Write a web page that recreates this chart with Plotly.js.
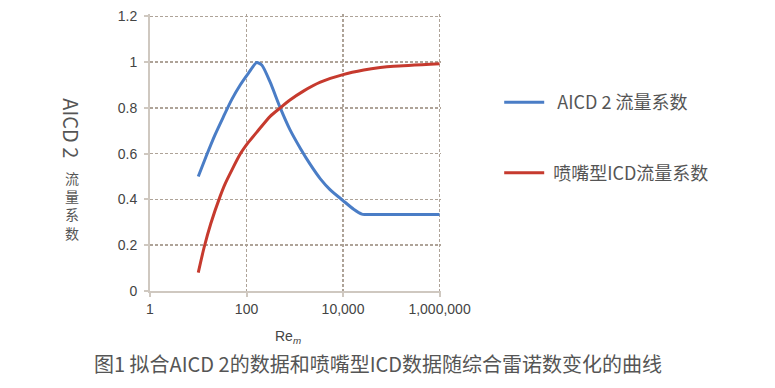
<!DOCTYPE html>
<html>
<head>
<meta charset="utf-8">
<script src="https://cdn.plot.ly/plotly-3.0.1.min.js"></script>
<style>html,body{margin:0;padding:0;background:#fff;}#chart{width:775px;height:388px;}</style>
</head>
<body>
<div id="chart"></div>
<script>
// Data
const aicdRe = [10, 15, 22, 33, 49, 74, 110, 162, 209, 309, 500, 794, 1290, 2090, 3390, 5370, 10000, 16600, 24500, 40000, 100000, 1000000];
const aicdCoef = [0.50, 0.595, 0.68, 0.76, 0.835, 0.90, 0.952, 0.998, 0.986, 0.912, 0.80, 0.705, 0.625, 0.553, 0.49, 0.443, 0.395, 0.357, 0.336, 0.334, 0.334, 0.334];
const nozzleRe = [10, 13.2, 18.2, 28, 36, 74, 110, 162, 309, 500, 794, 1510, 3390, 10000, 26900, 58900, 112000, 1000000];
const nozzleCoef = [0.08, 0.19, 0.295, 0.41, 0.468, 0.598, 0.65, 0.693, 0.763, 0.80, 0.834, 0.873, 0.912, 0.945, 0.965, 0.976, 0.982, 0.993];
const xTickVals = [1, 100, 10000, 1000000];
const xTickText = ['1', '100', '10,000', '1,000,000'];
const yTickVals = [0, 0.2, 0.4, 0.6, 0.8, 1, 1.2];
const yTickText = ['0', '0.2', '0.4', '0.6', '0.8', '1', '1.2'];
const seriesNames = ['\u00a0\u00a0AICD 2 流量系数', '\u00a0喷嘴型ICD流量系数'];
const yTitleLatin = 'AICD 2';
const yTitleCJK = ['流', '量', '系', '数'];
const xTitle = 'Re<sub><i>m</i></sub>';
const caption = '图1 拟合AICD 2的数据和喷嘴型ICD数据随综合雷诺数变化的曲线';

const cjkFont = '"Noto Sans CJK SC", "Noto Sans", sans-serif';
const tickFont = {family: '"Liberation Sans", Arial, sans-serif', size: 14, color: '#444'};
const gridStyle = {showgrid: true, gridcolor: '#aea398', griddash: '3px,2px', gridwidth: 1.5};
const lineStyle = {showline: true, linecolor: '#cfc8c0', linewidth: 2, ticks: 'outside', ticklen: 4,
                   tickcolor: '#cfc8c0', tickwidth: 2, zeroline: false, fixedrange: true};

const traces = [
  {x: aicdRe, y: aicdCoef, name: seriesNames[0], type: 'scatter', mode: 'lines',
   line: {color: '#4a7dc6', width: 3, shape: 'spline', smoothing: 0.6}, legendgroup: 'a'},
  {x: nozzleRe, y: nozzleCoef, name: seriesNames[1], type: 'scatter', mode: 'lines',
   line: {color: '#c63a2e', width: 3, shape: 'spline', smoothing: 0.6}, legendgroup: 'b'}
];

const annotations = [
  {text: yTitleLatin, xref: 'paper', yref: 'paper', x: -0.2686, y: 0.588, xanchor: 'center', yanchor: 'middle',
   textangle: 90, showarrow: false, font: {family: cjkFont, size: 20, color: '#555'}},
  {text: yTitleCJK.join('<br>'), xref: 'paper', yref: 'paper', x: -0.2686, y: 0.31, xanchor: 'center', yanchor: 'middle',
   showarrow: false, font: {family: cjkFont, size: 14, color: '#555'}},
  {text: xTitle, xref: 'paper', yref: 'paper', x: 0.473, y: -0.166, xanchor: 'center', yanchor: 'middle',
   showarrow: false, font: {family: '"Liberation Sans", Arial, sans-serif', size: 14, color: '#444'}},
  {text: caption, xref: 'paper', yref: 'paper', x: 0.782, y: -0.26, xanchor: 'center', yanchor: 'middle',
   showarrow: false, font: {family: cjkFont, size: 20, color: '#555'}}
];

const layout = {
  width: 775, height: 388,
  margin: {l: 150, r: 333.5, t: 13.7, b: 97},
  paper_bgcolor: '#fff', plot_bgcolor: '#fff',
  showlegend: true,
  legend: {x: 1.2, y: 0.747, xanchor: 'left', yanchor: 'top', traceorder: 'grouped', tracegroupgap: 44,
           itemwidth: 40, font: {family: cjkFont, size: 18, color: '#555'}, bgcolor: 'rgba(0,0,0,0)'},
  xaxis: Object.assign({type: 'log', range: [0, 6.03], tickvals: xTickVals, ticktext: xTickText, tickfont: tickFont}, gridStyle, lineStyle),
  yaxis: Object.assign({range: [0, 1.21], tickvals: yTickVals, ticktext: yTickText, tickfont: tickFont, ticklabelstandoff: 4}, gridStyle, lineStyle),
  annotations: annotations
};

Plotly.newPlot('chart', traces, layout, {displayModeBar: false, staticPlot: true});
</script>
</body>
</html>
